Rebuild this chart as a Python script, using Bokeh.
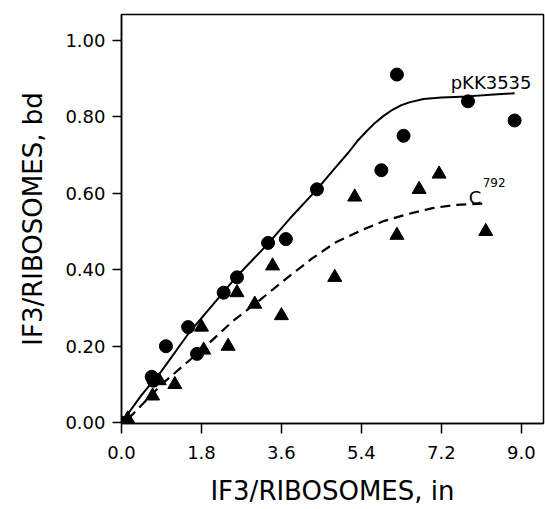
from bokeh.plotting import figure
from bokeh.models import Range1d, FixedTicker, PrintfTickFormatter
from bokeh.core.properties import value
from bokeh.embed import file_html
from bokeh.resources import INLINE

# pKK3535 (circles)
pkk_x = [0.0, 0.68, 0.72, 1.0, 1.5, 1.7, 2.3, 2.6, 3.3, 3.7, 4.4, 5.85, 6.2, 6.35, 7.8, 8.85]
pkk_y = [0.0, 0.12, 0.11, 0.20, 0.25, 0.18, 0.34, 0.38, 0.47, 0.48, 0.61, 0.66, 0.91, 0.75, 0.84, 0.79]

# C792 (triangles)
c792_x = [0.14, 0.7, 0.85, 1.2, 1.8, 1.85, 2.4, 2.6, 3.0, 3.4, 3.6, 4.8, 5.25, 6.2, 6.7, 7.15, 8.2]
c792_y = [0.01, 0.07, 0.11, 0.10, 0.25, 0.19, 0.20, 0.34, 0.31, 0.41, 0.28, 0.38, 0.59, 0.49, 0.61, 0.65, 0.50]

# fitted curves
fit_pkk_x = [0.0, 0.45, 0.9, 1.5, 2.3, 2.6, 3.3, 3.8, 4.4, 4.8, 5.1, 5.3, 5.5, 5.7, 5.9, 6.1,
             6.3, 6.5, 6.8, 7.2, 7.8, 8.3, 8.85]
fit_pkk_y = [0.0, 0.072, 0.135, 0.232, 0.342, 0.383, 0.468, 0.535, 0.610, 0.665, 0.705, 0.735,
             0.760, 0.783, 0.802, 0.818, 0.830, 0.838, 0.846, 0.850, 0.853, 0.857, 0.861]
fit_c792_x = [0.15, 0.9, 1.85, 2.5, 3.0, 3.8, 4.3, 4.8, 5.4, 5.9, 6.5, 7.0, 7.5, 8.2]
fit_c792_y = [0.01, 0.10, 0.195, 0.265, 0.31, 0.385, 0.43, 0.47, 0.503, 0.527, 0.547, 0.561, 0.569, 0.573]

x_ticks = [0.0, 1.8, 3.6, 5.4, 7.2, 9.0]
y_ticks = [0.0, 0.2, 0.4, 0.6, 0.8, 1.0]

FONT = "DejaVu Sans"

p = figure(width=545, height=509, output_backend="svg", toolbar_location=None,
           x_range=Range1d(0, 9.5), y_range=Range1d(-0.002, 1.067),
           min_border_left=121, min_border_top=14, min_border_bottom=86, min_border_right=2)
p.background_fill_color = "white"
p.border_fill_color = "white"
p.outline_line_color = "black"
p.outline_line_width = 1.5
p.xgrid.visible = False
p.ygrid.visible = False

for ax in (p.xaxis[0], p.yaxis[0]):
    ax.axis_line_width = 1.5
    ax.axis_line_color = "black"
    ax.major_tick_line_width = 1.5
    ax.major_tick_line_color = "black"
    ax.minor_tick_line_color = None
    ax.major_tick_in = 0
    ax.major_label_text_font = FONT
    ax.major_label_text_font_size = "18px"
    ax.major_label_text_color = "black"
    ax.axis_label_text_font = FONT
    ax.axis_label_text_font_size = "26px"
    ax.axis_label_text_font_style = "normal"
    ax.axis_label_text_color = "black"

p.xaxis.ticker = FixedTicker(ticks=x_ticks)
p.yaxis.ticker = FixedTicker(ticks=y_ticks)
p.xaxis.formatter = PrintfTickFormatter(format="%.1f")
p.yaxis.formatter = PrintfTickFormatter(format="%.2f")
p.xaxis.major_tick_out = 10
p.yaxis.major_tick_out = 9
p.xaxis.major_label_standoff = 12
p.yaxis.major_label_standoff = 7
p.xaxis.axis_label = "IF3/RIBOSOMES, in"
p.yaxis.axis_label = "IF3/RIBOSOMES, bd"
p.xaxis.axis_label_standoff = 14
p.yaxis.axis_label_standoff = 14

p.line(fit_pkk_x, fit_pkk_y, line_color="black", line_width=2)
p.line(fit_c792_x, fit_c792_y, line_color="black", line_width=2.2, line_dash="10 6")

p.scatter(pkk_x, pkk_y, marker="circle", size=13, fill_color="black", line_color="black")
p.scatter(c792_x, c792_y, marker="triangle", size=14, fill_color="black", line_color="black")

p.text(x=[7.41], y=[0.889], text=["pKK3535"], text_font=value(FONT), text_font_size="18px",
       text_baseline="alphabetic", text_align="left", text_color="black")
p.text(x=[7.82], y=[0.589], text=["C"], text_font=value(FONT), text_font_size="18px",
       text_baseline="alphabetic", text_align="left", text_color="black")
p.text(x=[8.13], y=[0.628], text=["792"], text_font=value(FONT), text_font_size="12px",
       text_baseline="alphabetic", text_align="left", text_color="black")

open("out.html", "w").write(file_html(p, INLINE))
